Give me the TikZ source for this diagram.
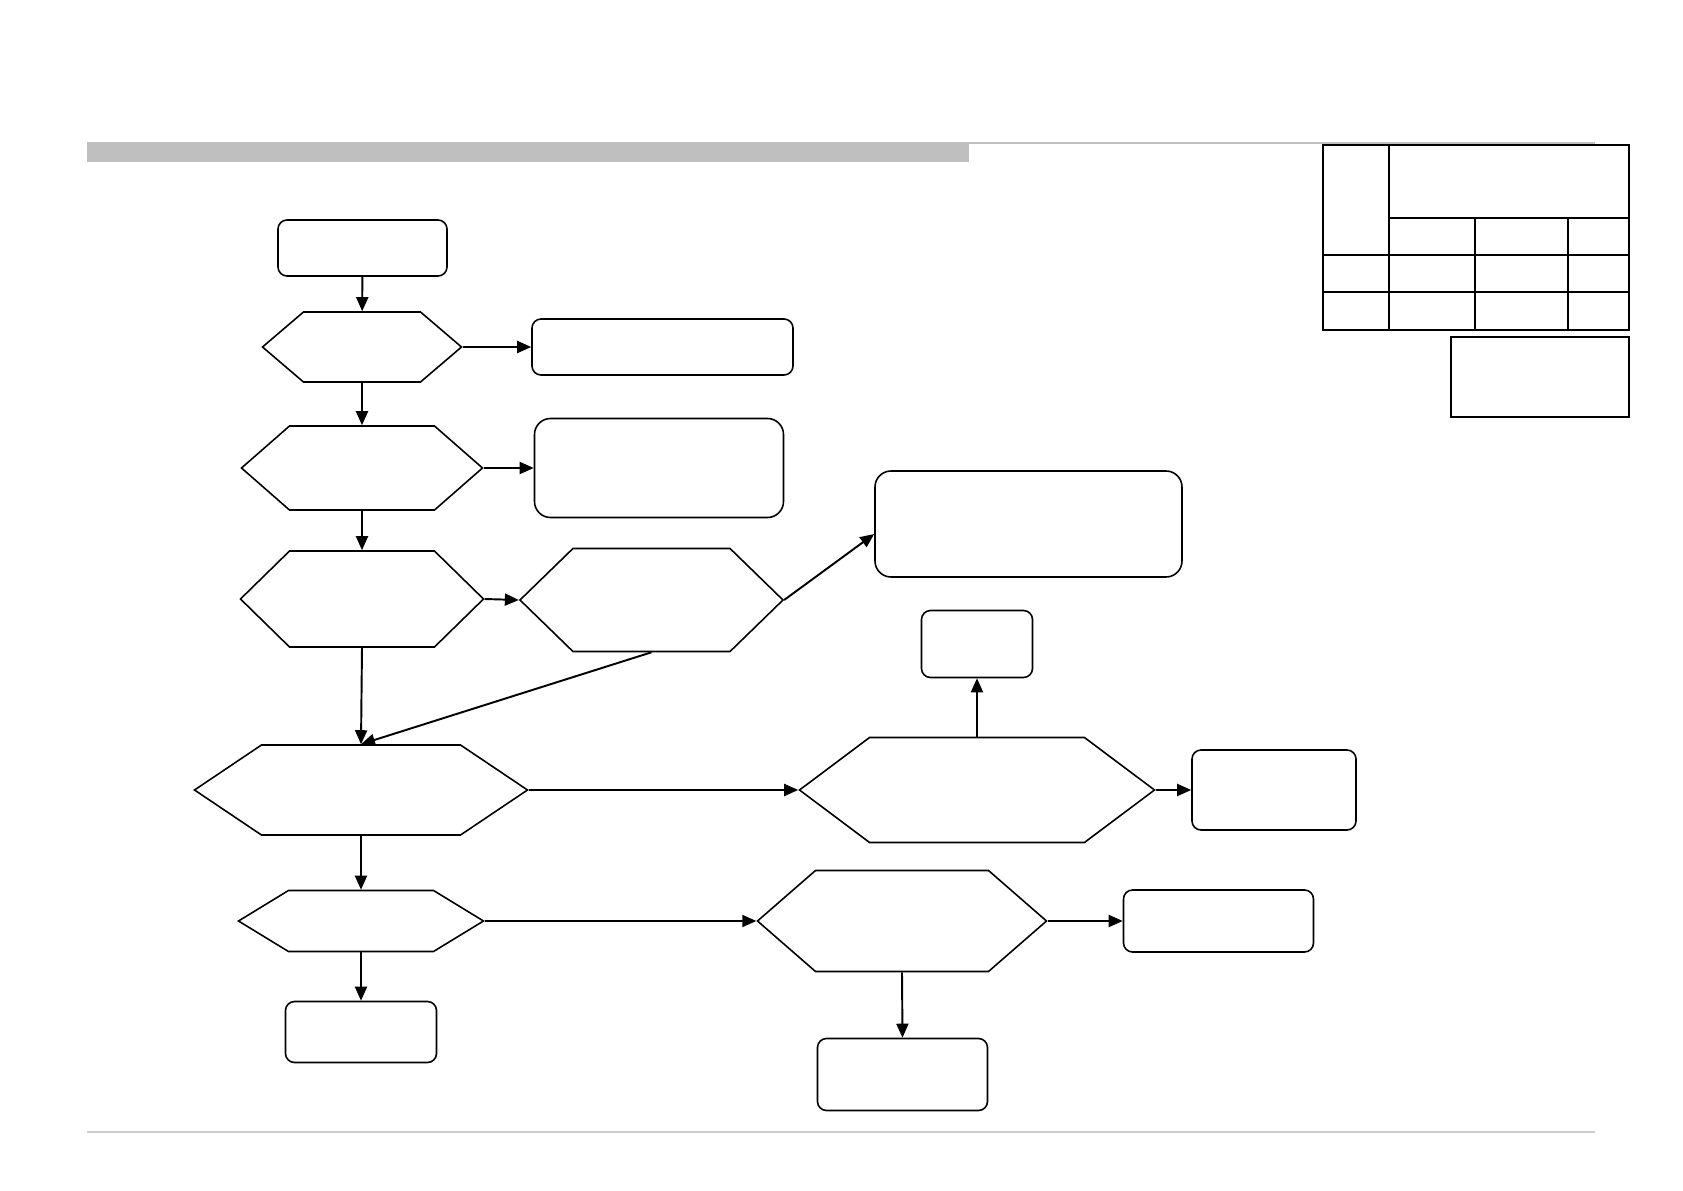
\documentclass[tikz,border=0pt]{standalone}
\usepackage{tikz}
\usetikzlibrary{arrows.meta, shapes.symbols}

\begin{document}
\begin{tikzpicture}[
    x=0.1mm, y=-0.1mm,
    >={Triangle[length=1.4mm, width=1.2mm]},
    procbox/.style={
        rectangle,
        rounded corners=0.9mm,
        draw=black,
        line width=0.45pt,
        inner sep=0pt
    },
    bigbox/.style={
        procbox,
        rounded corners=1.6mm
    },
    hexnode/.style={
        signal,
        signal to=east and west,
        signal pointer angle=#1,
        draw=black,
        line width=0.45pt,
        inner sep=0pt
    },
    flowedge/.style={
        ->,
        line width=0.55pt,
        draw=black
    },
    tableline/.style={
        line width=0.65pt,
        draw=black
    }
]
\useasboundingbox (0,0) rectangle (1683,1191);

% header and footer rules
\fill[gray!50] (87,142) rectangle (969,162);
\draw[gray!50, line width=0.5pt] (87,143) -- (1595,143);
\draw[black!20, line width=0.4pt] (87,1132) -- (1595,1132);

% revision table
\draw[tableline] (1323,145) rectangle (1629,330);
\draw[tableline] (1389,145) -- (1389,330);
\draw[tableline] (1475,218) -- (1475,330);
\draw[tableline] (1568,218) -- (1568,330);
\draw[tableline] (1389,218) -- (1629,218);
\draw[tableline] (1323,255) -- (1629,255);
\draw[tableline] (1323,292) -- (1629,292);
\draw[tableline] (1451,337) rectangle (1629,417);

% left column
\node[procbox, minimum width=16.9mm, minimum height=5.6mm] (start) at (362.5,248) {};
\node[hexnode=81, minimum width=19.9mm, minimum height=7.0mm] (chkA) at (362,347) {};
\node[hexnode=82.4, minimum width=24.1mm, minimum height=8.4mm] (chkB) at (362,468) {};
\node[hexnode=88.8, minimum width=24.3mm, minimum height=9.6mm] (chkC) at (362,599) {};
\node[hexnode=67.8, minimum width=33.3mm, minimum height=9.0mm] (chkD) at (361,790) {};
\node[hexnode=62.8, minimum width=24.5mm, minimum height=6.1mm] (chkE) at (361,921) {};
\node[procbox, minimum width=15.1mm, minimum height=6.1mm] (endA) at (361,1032) {};

% right side
\node[procbox, minimum width=26.1mm, minimum height=5.6mm] (actA) at (662.5,347) {};
\node[bigbox, minimum width=24.9mm, minimum height=9.9mm] (actB) at (659,468) {};
\node[hexnode=88.4, minimum width=26.3mm, minimum height=10.3mm] (chkF) at (651.5,600) {};
\node[bigbox, minimum width=30.7mm, minimum height=10.6mm] (actC) at (1028.5,524) {};
\node[hexnode=73.7, minimum width=35.5mm, minimum height=10.5mm] (chkG) at (977,790) {};
\node[procbox, minimum width=11.1mm, minimum height=6.7mm] (actD) at (977,644) {};
\node[procbox, minimum width=16.4mm, minimum height=8.0mm] (actE) at (1274,790) {};
\node[hexnode=82.1, minimum width=28.9mm, minimum height=10.1mm] (chkH) at (902,921) {};
\node[procbox, minimum width=19.0mm, minimum height=6.2mm] (actF) at (1218.5,921) {};
\node[procbox, minimum width=17.0mm, minimum height=7.2mm] (endB) at (902.5,1074.5) {};

\draw[flowedge] (start) -- (chkA);
\draw[flowedge] (chkA.east) -- (actA.west);
\draw[flowedge] (chkA.south) -- (chkB.north);
\draw[flowedge] (chkB.east) -- (actB.west);
\draw[flowedge] (chkB.south) -- (chkC.north);
\draw[flowedge] (chkC.east) -- (chkF.west);
\draw[flowedge] (chkF.east) -- ([yshift=-1mm]actC.west);
\draw[flowedge] (chkC.south) -- (chkD.north);
\draw[flowedge] (chkF.south) -- (chkD.north);
\draw[flowedge] (chkD.east) -- (chkG.west);
\draw[flowedge] (chkG.north) -- (actD.south);
\draw[flowedge] (chkG.east) -- (actE.west);
\draw[flowedge] (chkD.south) -- (chkE.north);
\draw[flowedge] (chkE.south) -- (endA.north);
\draw[flowedge] (chkE.east) -- (chkH.west);
\draw[flowedge] (chkH.east) -- (actF.west);
\draw[flowedge] (chkH.south) -- (endB.north);

\end{tikzpicture}
\end{document}
